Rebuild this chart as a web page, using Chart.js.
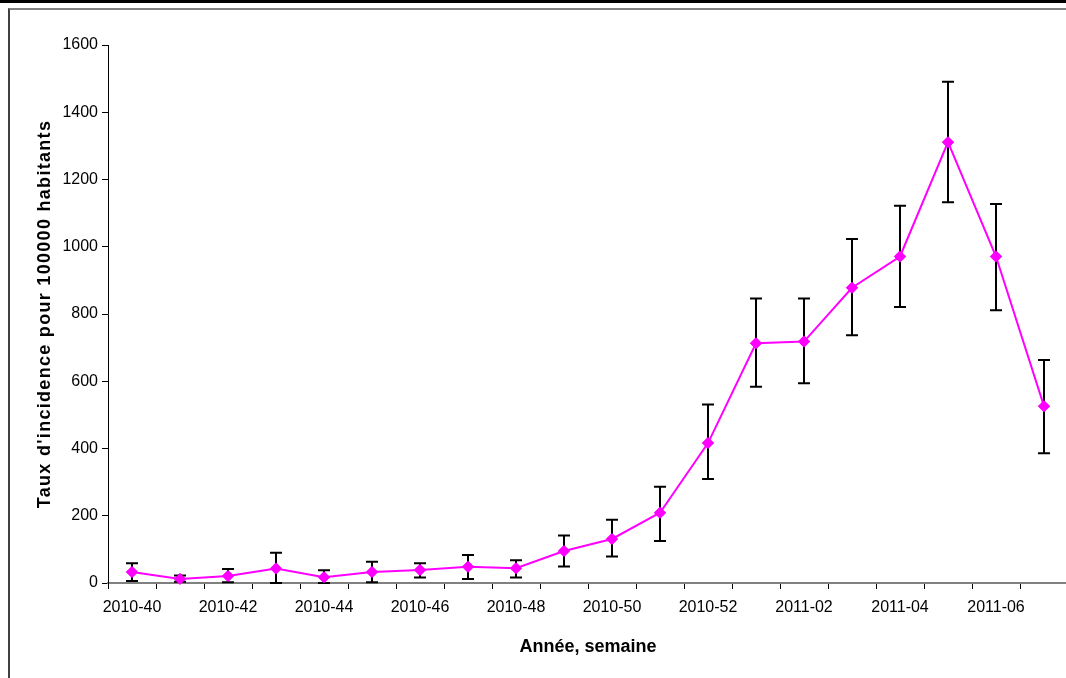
<!DOCTYPE html>
<html>
<head>
<meta charset="utf-8">
<script src="https://cdn.jsdelivr.net/npm/chart.js@4/dist/chart.umd.min.js"></script>
<style>
  html, body { margin: 0; padding: 0; background: #fff; overflow: hidden; }
  #wrap { position: relative; width: 1066px; height: 678px; overflow: hidden; }
  #topbar { position: absolute; left: 0; top: 0; width: 1066px; height: 3px; background: #000; }
  #frame { position: absolute; left: 8px; top: 8px; width: 1070px; height: 680px;
           border-left: 2px solid #404040; border-top: 2px solid #808080; }
  #box { position: absolute; left: 0; top: 0; width: 1082px; height: 678px; }
</style>
</head>
<body>
<div id="wrap">
  <div id="topbar"></div>
  <div id="frame"></div>
  <div id="box"><canvas id="chart"></canvas></div>
</div>
<script>
const weeks = ['2010-40', '2010-41', '2010-42', '2010-43', '2010-44', '2010-45', '2010-46',
  '2010-47', '2010-48', '2010-49', '2010-50', '2010-51', '2010-52', '2011-01', '2011-02',
  '2011-03', '2011-04', '2011-05', '2011-06', '2011-07'];
const incidence = [33, 12, 21, 43, 17, 33, 39, 48, 44, 95, 131, 209, 416, 713, 718, 878, 971, 1311, 971, 526];
const upperCI = [59, 22, 42, 90, 38, 63, 59, 83, 68, 141, 188, 286, 531, 846, 846, 1023, 1122, 1491, 1127, 663];
const lowerCI = [6, 4, 2, 0, 0, 2, 16, 12, 16, 49, 79, 125, 309, 584, 594, 737, 821, 1132, 811, 386];
const yTitle = "Taux d'incidence pour 100000 habitants";

// barres d'erreur dessinees avec les echelles du graphique
const errorBars = {
    id: 'errorBars',
    afterDatasetsDraw(chart) {
        const ctx = chart.ctx;
        const x = chart.scales.x, y = chart.scales.y;
        ctx.save();
        ctx.strokeStyle = '#000';
        ctx.lineWidth = 2;
        weeks.forEach((w, i) => {
            const px = x.getPixelForValue(i);
            const top = y.getPixelForValue(upperCI[i]);
            const bot = y.getPixelForValue(lowerCI[i]);
            ctx.beginPath();
            ctx.moveTo(px, top); ctx.lineTo(px, bot);
            ctx.moveTo(px - 6, top); ctx.lineTo(px + 6, top);
            ctx.moveTo(px - 6, bot); ctx.lineTo(px + 6, bot);
            ctx.stroke();
        });
        ctx.restore();
        // redessiner les marqueurs par-dessus
        chart.getDatasetMeta(0).data.forEach(p => p.draw(ctx));
    },
    afterDraw(chart) {
        // titre vertical avec un peu d'espacement entre les lettres
        const ctx = chart.ctx;
        const area = chart.chartArea;
        ctx.save();
        ctx.translate(45, (area.top + area.bottom) / 2);
        ctx.rotate(-Math.PI / 2);
        ctx.font = 'bold 18px Arial, "Liberation Sans", sans-serif';
        ctx.letterSpacing = '1.3px';
        ctx.fillStyle = '#000';
        ctx.textAlign = 'center';
        ctx.textBaseline = 'middle';
        ctx.fillText(yTitle, 0, 0);
        ctx.restore();
    }
};

Chart.defaults.font.family = 'Arial, "Liberation Sans", sans-serif';
Chart.defaults.color = '#000';

new Chart(document.getElementById('chart'), {
    type: 'line',
    data: {
        labels: weeks,
        datasets: [{
            data: incidence,
            borderColor: '#FF00FF',
            backgroundColor: '#FF00FF',
            borderWidth: 2,
            pointStyle: 'rectRot',
            pointRadius: 6,
            pointBorderWidth: 0,
            tension: 0
        }]
    },
    options: {
        responsive: true,
        maintainAspectRatio: false,
        animation: false,
        layout: { padding: { top: 45, left: 0, right: 14, bottom: 0 } },
        plugins: { legend: { display: false }, tooltip: { enabled: false } },
        scales: {
            x: {
                offset: true,
                afterFit: s => { s.height = 95; },
                border: { color: '#808080', width: 2 },
                grid: { display: true, drawOnChartArea: false, offset: true, color: '#000', tickLength: 6 },
                ticks: {
                    autoSkip: false, maxRotation: 0, font: { size: 16 }, padding: 9,
                    callback: (v, i) => (i % 2 === 0 ? weeks[i] : '')
                },
                title: { display: true, text: 'Année, semaine', font: { size: 18, weight: 'bold' }, padding: { top: 0, bottom: 20 } }
            },
            y: {
                min: 0, max: 1600,
                afterFit: s => { s.width = 108; },
                border: { color: '#000', width: 1 },
                grid: { display: true, drawOnChartArea: false, color: '#000', tickLength: 6 },
                ticks: { stepSize: 200, font: { size: 16 }, padding: 4, callback: v => String(v) }
            }
        }
    },
    plugins: [errorBars]
});
</script>
</body>
</html>
